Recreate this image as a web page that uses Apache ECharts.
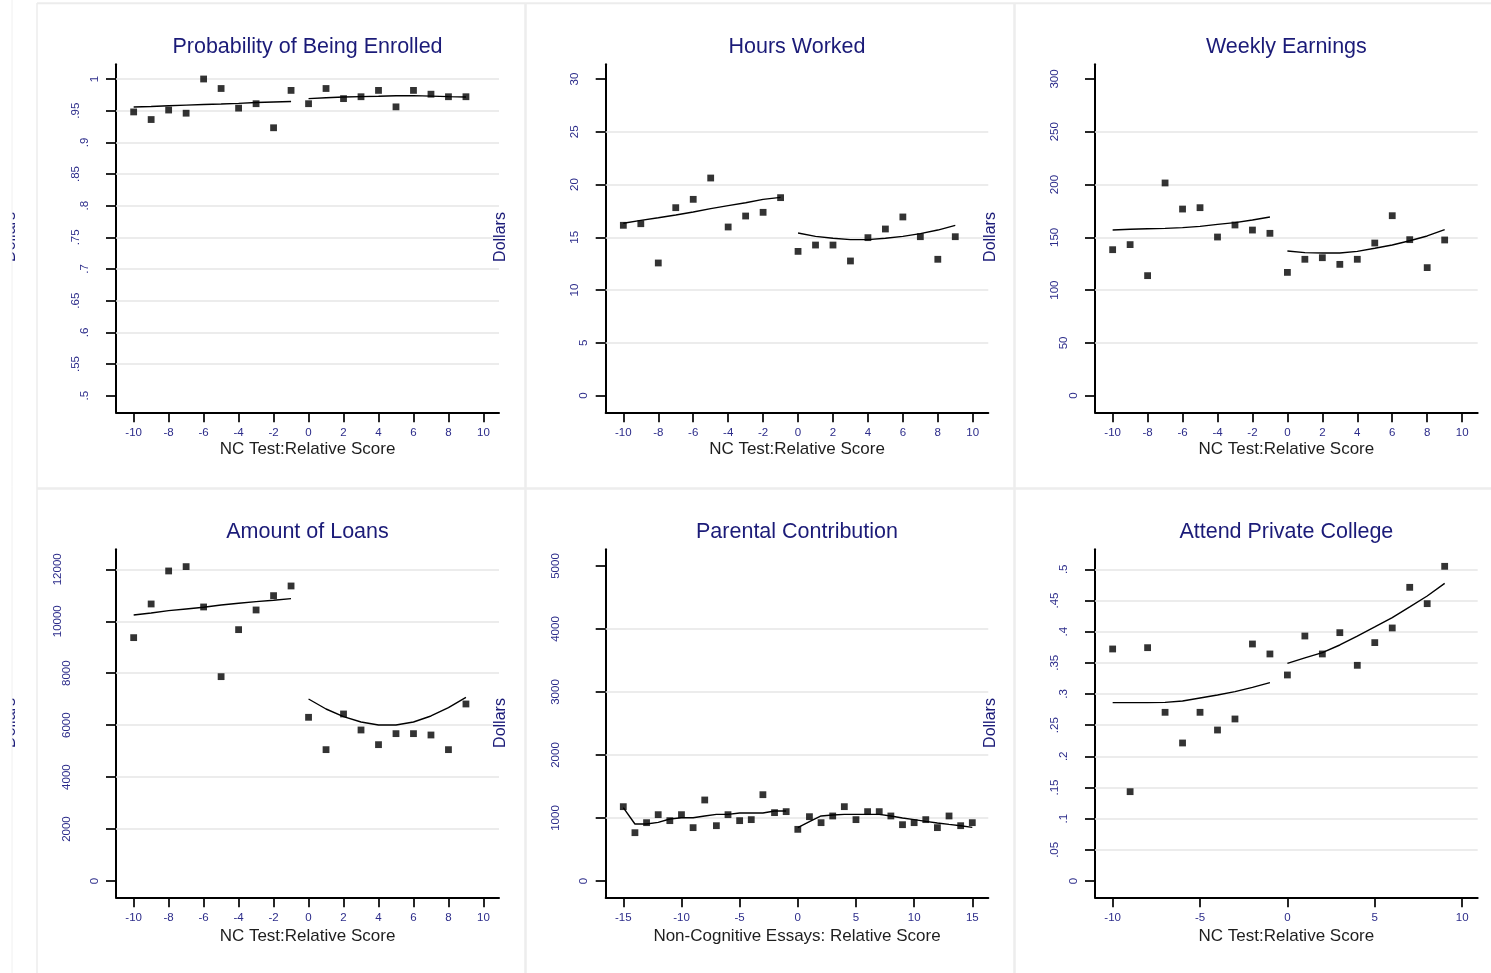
<!DOCTYPE html>
<html><head><meta charset="utf-8">
<script src="https://cdn.jsdelivr.net/npm/echarts@6/dist/echarts.min.js"></script>
<style>html,body{margin:0;padding:0;background:#fff}#c{width:1491px;height:973px}</style>
</head><body><div id="c"></div><script>
// ---------- data ----------
const xNC = [-10,-9,-8,-7,-6,-5,-4,-3,-2,-1,0,1,2,3,4,5,6,7,8,9];
const xNCLeft = [-10,-9,-8,-7,-6,-5,-4,-3,-2,-1];
const xNCRight = [0,1,2,3,4,5,6,7,8,9];
const xEssay = [-15,-14,-13,-12,-11,-10,-9,-8,-7,-6,-5,-4,-3,-2,-1,0,1,2,3,4,5,6,7,8,9,10,11,12,13,14,15];
const xEssayLeft = [-15,-14,-13,-12,-11,-10,-9,-8,-7,-6,-5,-4,-3,-2,-1];
const xEssayRight = [0,1,2,3,4,5,6,7,8,9,10,11,12,13,14,15];

const xTicksNC = [-10,-8,-6,-4,-2,0,2,4,6,8,10];
const xTicksNC5 = [-10,-5,0,5,10];
const xTicksEssay = [-15,-10,-5,0,5,10,15];

const enrolledYTicks = [0.5,0.55,0.6,0.65,0.7,0.75,0.8,0.85,0.9,0.95,1];
const enrolledGrid = [0.55,0.6,0.65,0.7,0.75,0.8,0.85,0.9,0.95,1];
const enrolledPts = [0.948,0.936,0.951,0.946,1.0,0.985,0.954,0.961,0.923,0.982,0.961,0.985,0.969,0.972,0.982,0.956,0.982,0.976,0.972,0.972];
const enrolledFitLeft = [0.9558,0.9565,0.9578,0.9588,0.9598,0.9605,0.9615,0.9628,0.9638,0.9645];
const enrolledFitRight = [0.969,0.9705,0.9716,0.9722,0.9728,0.9735,0.9738,0.973,0.9722,0.9716];

const hoursYTicks = [0,5,10,15,20,25,30];
const hoursGrid = [5,10,15,20,25];
const hoursPts = [16.14,16.29,12.57,17.81,18.6,20.62,15.98,17.02,17.37,18.76,13.67,14.27,14.27,12.76,14.97,15.79,16.93,15.06,12.92,15.06];
const hoursFitLeft = [16.33,16.61,16.86,17.12,17.4,17.72,18.0,18.28,18.6,18.79];
const hoursFitRight = [15.41,15.09,14.91,14.78,14.78,14.91,15.09,15.35,15.69,16.14];

const earningsYTicks = [0,50,100,150,200,250,300];
const earningsGrid = [50,100,150,200,250];
const earningsPts = [138.3,143.1,113.7,201.5,176.8,178.1,150.3,161.7,156.9,153.8,116.8,129.2,130.7,124.4,129.2,144.6,170.5,147.8,121.3,147.5];
const earningsFitLeft = [156.9,157.6,158.2,158.5,159.2,160.4,162.3,163.9,166.4,169.3];
const earningsFitRight = [137.1,135.5,135.2,135.2,136.7,139.6,142.7,146.8,151.3,157.3];

const loansYTicks = [0,2000,4000,6000,8000,10000,12000];
const loansGrid = [2000,4000,6000,8000,10000,12000];
const loansPts = [9369,10665,11936,12103,10550,7867,9677,10434,10986,11358,6302,5057,6430,5814,5249,5673,5673,5621,5057,6815];
const loansFitLeft = [10242,10319,10409,10473,10537,10627,10691,10755,10806,10871];
const loansFitRight = [7007,6622,6327,6122,6006,6006,6122,6353,6674,7072];

const parentalYTicks = [0,1000,2000,3000,4000,5000];
const parentalGrid = [1000,2000,3000,4000];
const parentalPts = [1180,767,926,1053,958,1053,847,1286,878,1053,958,974,1370,1085,1101,820,1021,926,1032,1180,974,1101,1101,1032,894,926,974,847,1032,878,926];
const parentalFitLeft = [1164,905,905,931,984,1005,1005,1032,1058,1058,1079,1079,1079,1111,1111];
const parentalFitRight = [847,942,1032,1048,1058,1058,1058,1058,1032,1000,974,947,921,899,878,852];

const privateYTicks = [0,0.05,0.1,0.15,0.2,0.25,0.3,0.35,0.4,0.45,0.5];
const privateGrid = [0.05,0.1,0.15,0.2,0.25,0.3,0.35,0.4,0.45,0.5];
const privatePts = [0.3722,0.1433,0.3743,0.2706,0.2214,0.2706,0.2422,0.2599,0.3802,0.3642,0.3305,0.393,0.3642,0.3984,0.346,0.3824,0.4059,0.4711,0.4449,0.5048];
const privateFitLeft = [0.2861,0.2861,0.2861,0.2866,0.2888,0.2936,0.2984,0.3037,0.3107,0.3182];
const privateFitRight = [0.3492,0.3578,0.3663,0.3786,0.393,0.4075,0.4225,0.4396,0.4572,0.4775];

const titles = ['Probability of Being Enrolled','Hours Worked','Weekly Earnings','Amount of Loans','Parental Contribution','Attend Private College'];
const xTitles = ['NC Test:Relative Score','NC Test:Relative Score','NC Test:Relative Score','NC Test:Relative Score','Non-Cognitive Essays: Relative Score','NC Test:Relative Score'];
const yTitle = 'Dollars';

// ---------- layout ----------
const FONT = '"Liberation Sans", Arial, Helvetica, sans-serif';
const NAVY = '#1b1b78';
const TICKC = '#2c2c8a';
const colLeft = [116, 605.7, 1095];
const colWidth = [383, 382.6, 382.7];
const rowTop = [64.3, 549.3];
const plotH = 348;

const zip = (xs, ys) => xs.map((x, i) => [x, ys[i]]);

const panels = [
  {col:0,row:0,xMin:-11.01,xMax:10.89,yMin:0.47374,yMax:1.02321,xTicks:xTicksNC,yTicks:enrolledYTicks,grid:enrolledGrid,
   pts:zip(xNC,enrolledPts),fits:[zip(xNCLeft,enrolledFitLeft),zip(xNCRight,enrolledFitRight)]},
  {col:1,row:0,xMin:-11.01,xMax:10.89,yMin:-1.576,yMax:31.393,xTicks:xTicksNC,yTicks:hoursYTicks,grid:hoursGrid,
   pts:zip(xNC,hoursPts),fits:[zip(xNCLeft,hoursFitLeft),zip(xNCRight,hoursFitRight)]},
  {col:2,row:0,xMin:-11.01,xMax:10.89,yMin:-15.76,yMax:313.93,xTicks:xTicksNC,yTicks:earningsYTicks,grid:earningsGrid,
   pts:zip(xNC,earningsPts),fits:[zip(xNCLeft,earningsFitLeft),zip(xNCRight,earningsFitRight)]},
  {col:0,row:1,xMin:-11.01,xMax:10.89,yMin:-627.6,yMax:12770,xTicks:xTicksNC,yTicks:loansYTicks,grid:loansGrid,
   pts:zip(xNC,loansPts),fits:[zip(xNCLeft,loansFitLeft),zip(xNCRight,loansFitRight)]},
  {col:1,row:1,xMin:-16.513,xMax:16.375,yMin:-258.7,yMax:5265,xTicks:xTicksEssay,yTicks:parentalYTicks,grid:parentalGrid,
   pts:zip(xEssay,parentalPts),fits:[zip(xEssayLeft,parentalFitLeft),zip(xEssayRight,parentalFitRight)]},
  {col:2,row:1,xMin:-11.01,xMax:10.89,yMin:-0.02615,yMax:0.5321,xTicks:xTicksNC5,yTicks:privateYTicks,grid:privateGrid,
   pts:zip(xNC,privatePts),fits:[zip(xNCLeft,privateFitLeft),zip(xNCRight,privateFitRight)]}
];

function yFmt(v){
  let s = String(+(+v).toFixed(4));
  if (s.indexOf('0.') === 0) s = s.slice(1);
  return '{l' + Math.min(s.length,5) + '|' + s + '}';
}
const richBase = {fontSize:11.5, fontFamily:FONT, color:TICKC};
const rich = {
  l1: Object.assign({padding:[0,0,0,0]}, richBase),
  l2: Object.assign({padding:[0,0,9.5,0]}, richBase),
  l3: Object.assign({padding:[0,0,19,0]}, richBase),
  l4: Object.assign({padding:[0,0,28,0]}, richBase),
  l5: Object.assign({padding:[0,0,36.5,0]}, richBase)
};

const grids = [], xAxes = [], yAxes = [], series = [], graphics = [];
panels.forEach((p, i) => {
  const left = colLeft[p.col], top = rowTop[p.row], width = colWidth[p.col];
  grids.push({left:left, top:top, width:width, height:plotH});
  xAxes.push({
    gridIndex:i, type:'value', min:p.xMin, max:p.xMax,
    axisLine:{show:true, onZero:false, lineStyle:{color:'#000', width:2}},
    axisTick:{show:true, length:10, customValues:p.xTicks, lineStyle:{color:'#000', width:1.7}},
    axisLabel:{customValues:p.xTicks, margin:15, fontSize:11.5, fontFamily:FONT, color:TICKC},
    splitLine:{show:false}
  });
  yAxes.push({
    gridIndex:i, type:'value', min:p.yMin, max:p.yMax,
    axisLine:{show:true, onZero:false, lineStyle:{color:'#000', width:2}},
    axisTick:{show:true, length:10, customValues:p.yTicks, lineStyle:{color:'#000', width:1.7}},
    axisLabel:{customValues:p.yTicks, rotate:90, margin:15.5, formatter:yFmt, rich:rich, fontSize:11.5, fontFamily:FONT, color:TICKC},
    splitLine:{show:false}
  });
  series.push({
    type:'line', xAxisIndex:i, yAxisIndex:i, data:[], z:1, silent:true,
    markLine:{silent:true, z:1, symbol:['none','none'], label:{show:false}, emphasis:{disabled:true},
      lineStyle:{color:'#e6e6e6', width:1.5, type:'solid'},
      data:p.grid.map(v => ({yAxis:v}))}
  });
  p.fits.forEach(f => series.push({
    type:'line', xAxisIndex:i, yAxisIndex:i, data:f, showSymbol:false, symbol:'none', smooth:false, z:3, silent:true,
    lineStyle:{color:'#000', width:1.4}
  }));
  series.push({
    type:'scatter', xAxisIndex:i, yAxisIndex:i, data:p.pts, symbol:'rect', symbolSize:6.8, z:4, silent:true,
    itemStyle:{color:'#000'}
  });
  const cx = left + width/2;
  graphics.push({type:'text', x:cx, y:(p.row ? 532.5 : 46.8), z:10,
    style:{text:titles[i], fill:NAVY, font:'21.5px ' + FONT, align:'center', verticalAlign:'middle', textAlign:'center', textVerticalAlign:'middle'}});
  graphics.push({type:'text', x:cx, y:(p.row ? 936.2 : 449.7), z:10,
    style:{text:xTitles[i], fill:'#1e1e1e', font:'17px ' + FONT, align:'center', verticalAlign:'middle', textAlign:'center', textVerticalAlign:'middle'}});
});

// "Dollars" y-titles (left one is clipped by the frame edge)
[[10.9,237],[500.2,237],[990.7,237],[10.9,723],[500.2,723],[990.7,723]].forEach(pt => {
  graphics.push({type:'text', x:pt[0], y:pt[1], rotation:Math.PI/2, z:10,
    style:{text:yTitle, fill:NAVY, font:'16px ' + FONT, align:'center', verticalAlign:'middle', textAlign:'center', textVerticalAlign:'middle'}});
});
graphics.push({type:'rect', shape:{x:0,y:0,width:12,height:973}, style:{fill:'#fff'}, z:50});
const border = (x1,y1,x2,y2,w,c) => graphics.push({type:'line', z:51, shape:{x1:x1,y1:y1,x2:x2,y2:y2}, style:{stroke:c, lineWidth:w}});
border(12,0,12,973,1,'#f0f0f0');
border(37,3,37,973,1.5,'#ececec');
border(37,3.3,1491,3.3,2,'#ececec');
border(525.5,3,525.5,973,2.5,'#ededed');
border(1014.5,3,1014.5,973,2.5,'#ededed');
border(37,488.5,1491,488.5,2.5,'#ededed');

const chart = echarts.init(document.getElementById('c'), null, {renderer:'canvas'});
chart.setOption({
  animation:false,
  backgroundColor:'#fff',
  textStyle:{fontFamily:FONT},
  grid:grids, xAxis:xAxes, yAxis:yAxes, series:series,
  graphic:{elements:graphics}
});
</script></body></html>
